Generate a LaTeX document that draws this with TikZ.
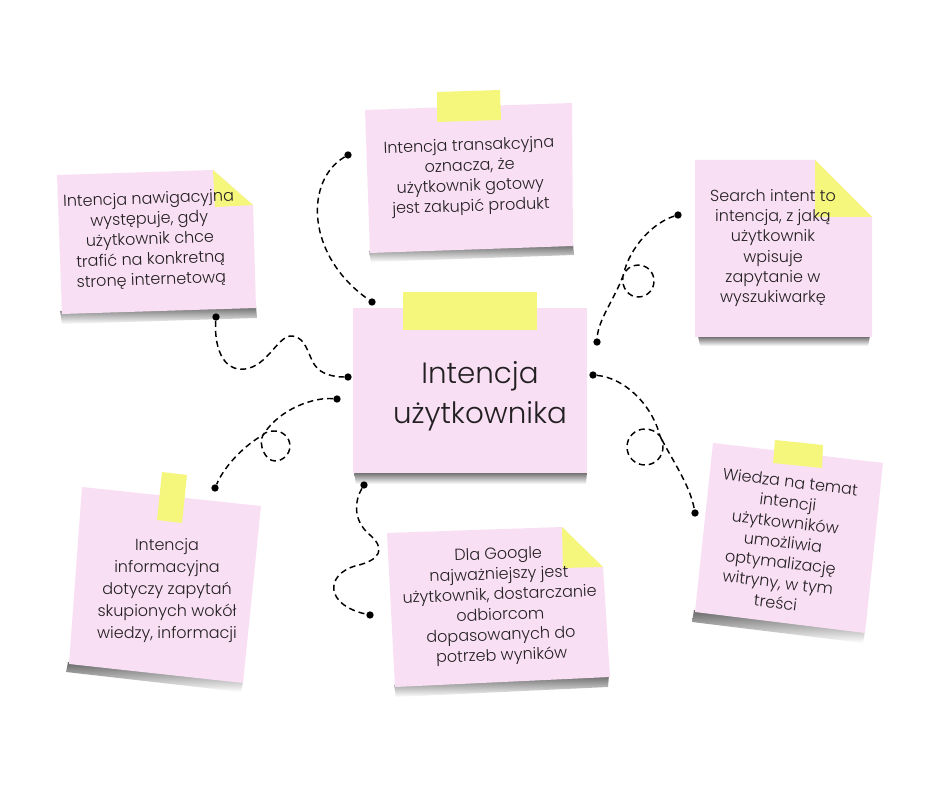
\documentclass[tikz,border=0pt]{standalone}
\usepackage{fontspec}
\setmainfont{Poppins}[UprightFont=* Light]
\usetikzlibrary{positioning}
\definecolor{notepink}{RGB}{249,223,243}
\definecolor{tapeyellow}{RGB}{245,247,125}
\definecolor{inkgray}{RGB}{35,32,35}
\begin{document}
\begin{tikzpicture}[x=0.75pt,y=-0.75pt,
    note/.style={fill=notepink},
    tape/.style={fill=tapeyellow},
    shadowband/.style={top color=black!60,bottom color=white},
    dot/.style={circle,fill=black,inner sep=0pt,minimum size=5.5pt},
    conn/.style={line width=1.1pt,dash pattern=on 4.5pt off 3pt},
    small/.style={text=inkgray,align=center,font=\fontsize{12}{15.2}\selectfont},
    big/.style={text=inkgray,align=center,font=\fontsize{22}{30}\selectfont}]
\useasboundingbox[fill=white] (0,0) rectangle (940,788);
\shade[shadowband] (60,311)--(256,306)--(257,318)--(62,324)--cycle;
\shade[shadowband] (369,251)--(573,244)--(574,255)--(371,262)--cycle;
\shade[shadowband] (698,336)--(870,336)--(868,346)--(700,346)--cycle;
\shade[shadowband] (354,472)--(587,472)--(586,484)--(356,484)--cycle;
\shade[shadowband] (68,662)--(243,682)--(241,692)--(66,672)--cycle;
\shade[shadowband] (394,685)--(609,675)--(608,687)--(396,697)--cycle;
\shade[shadowband] (694,610)--(865,631)--(863,643)--(692,622)--cycle;
\fill[note] (57,175)--(213,170)--(253,205)--(256,308)--(62,314)--cycle;
\fill[tape] (213,170)--(253,205)--(215,207)--cycle;
\fill[note] (365,110)--(572,103)--(573,246)--(370,253)--cycle;
\fill[tape] (437,92)--(500,90)--(501,120)--(437,122)--cycle;
\fill[note] (695,160)--(815,160)--(872,217)--(872,337)--(695,337)--cycle;
\fill[tape] (815,160)--(872,217)--(815,217)--cycle;
\fill[note] (353,308)--(587,308)--(587,473)--(353,473)--cycle;
\fill[tape] (403,292)--(537,292)--(537,330)--(403,330)--cycle;
\fill[note] (82,487)--(261,506)--(243,683)--(69,664)--cycle;
\fill[tape] (162,472)--(187,475)--(182,523)--(157,520)--cycle;
\fill[note] (387,533)--(562,527)--(603,567)--(610,677)--(395,687)--cycle;
\fill[tape] (562,527)--(603,567)--(563,568)--cycle;
\fill[note] (713,443)--(883,463)--(865,633)--(695,612)--cycle;
\fill[tape] (775,440)--(823,445)--(822,468)--(773,463)--cycle;
\node[small,rotate=2] (nav) at (150,240) {Intencja nawigacyjna\\występuje, gdy\\użytkownik chce\\trafić na konkretną\\stronę internetową};
\node[small,rotate=2] (trans) at (470,177) {Intencja transakcyjna\\oznacza, że\\użytkownik gotowy\\jest zakupić produkt};
\node[small] (search) at (773,248) {Search intent to\\intencja, z jaką\\użytkownik\\wpisuje\\zapytanie w\\wyszukiwarkę};
\node[big] (main) at (480,396) {Intencja\\użytkownika};
\node[small,font=\fontsize{12}{16.5}\selectfont] (info) at (167,591) {Intencja\\informacyjna\\dotyczy zapytań\\skupionych wokół\\wiedzy, informacji};
\node[small,rotate=2] (google) at (500,606) {Dla Google\\najważniejszy jest\\użytkownik, dostarczanie\\odbiorcom\\dopasowanych do\\potrzeb wyników};
\node[small,rotate=-7] (wiedza) at (783,542) {Wiedza na temat\\intencji\\użytkowników\\umożliwia\\optymalizację\\witryny, w tym\\treści};
\node[dot] (a1) at (216,317) {};
\node[dot] (a2) at (348,377) {};
\node[dot] (b1) at (337,399) {};
\node[dot] (b2) at (215,488) {};
\node[dot] (c1) at (348,155) {};
\node[dot] (c2) at (372,302) {};
\node[dot] (d1) at (678,215) {};
\node[dot] (d2) at (597,342) {};
\node[dot] (e1) at (593,375) {};
\node[dot] (e2) at (695,513) {};
\node[dot] (f1) at (364,485) {};
\node[dot] (f2) at (370,615) {};
\draw[conn] (a1) .. controls (214,345) and (222,372) .. (245,369)
    .. controls (268,366) and (278,335) .. (292,336)
    .. controls (308,337) and (308,360) .. (318,369)
    .. controls (326,376) and (338,377) .. (a2);
\draw[conn] (b1) .. controls (315,397) and (280,408) .. (263,435)
    .. controls (258,444) and (265,461) .. (275,461)
    .. controls (283,461) and (290,454) .. (290,446)
    .. controls (290,438) and (283,431) .. (275,431)
    .. controls (270,431) and (265,432) .. (263,435)
    .. controls (245,445) and (225,465) .. (b2);
\draw[conn] (c1) .. controls (305,180) and (305,255) .. (c2);
\draw[conn] (d1) .. controls (655,222) and (630,245) .. (623,276)
    .. controls (621,288) and (629,297) .. (638,297)
    .. controls (647,297) and (654,290) .. (654,281)
    .. controls (654,272) and (647,265) .. (638,265)
    .. controls (631,265) and (625,270) .. (623,276)
    .. controls (614,300) and (598,320) .. (d2);
\draw[conn] (e1) .. controls (625,378) and (652,405) .. (660,436)
    .. controls (656,431) and (650,429) .. (645,429)
    .. controls (635,429) and (627,437) .. (627,447)
    .. controls (627,457) and (635,465) .. (645,465)
    .. controls (655,465) and (663,457) .. (663,447)
    .. controls (663,442) and (662,439) .. (660,436)
    .. controls (672,460) and (690,485) .. (e2);
\draw[conn] (f1) .. controls (355,500) and (352,520) .. (370,535)
    .. controls (385,548) and (382,560) .. (355,566)
    .. controls (325,575) and (325,605) .. (f2);
\end{tikzpicture}
\end{document}
